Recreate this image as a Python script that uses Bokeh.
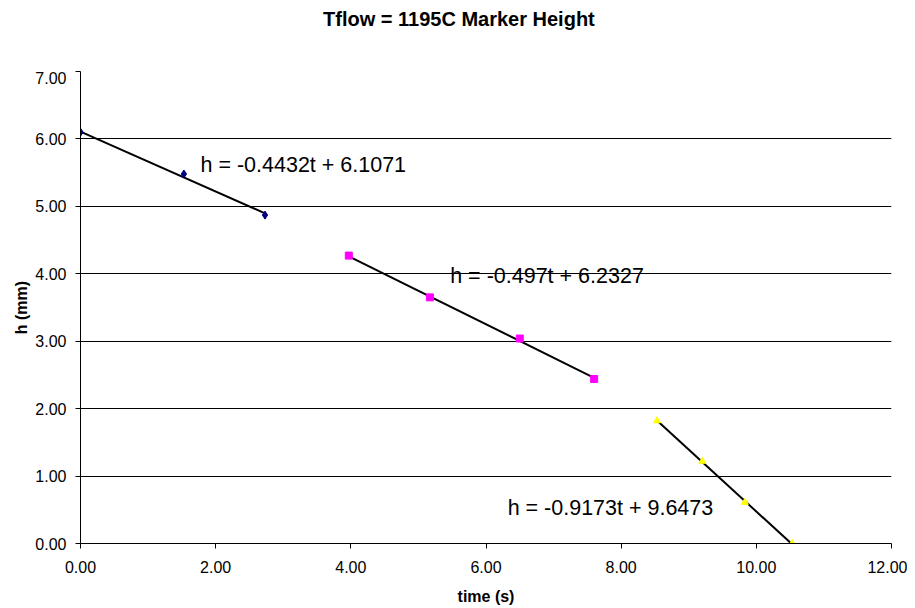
from bokeh.plotting import figure
from bokeh.models import Range1d, PrintfTickFormatter, FixedTicker, Label, Div
from bokeh.layouts import column
from bokeh.embed import file_html
from bokeh.resources import INLINE

# Data
t1 = [0.00, 1.53, 2.73]
h1 = [6.10, 5.48, 4.87]
t2 = [3.97, 5.17, 6.50, 7.60]
h2 = [4.27, 3.65, 3.04, 2.44]
t3 = [8.53, 9.20, 9.83, 10.53]
h3 = [1.82, 1.22, 0.61, 0.00]

slopes = [-0.4432, -0.497, -0.9173]
intercepts = [6.1071, 6.2327, 9.6473]
eq_labels = ["h = -0.4432t + 6.1071", "h = -0.497t + 6.2327", "h = -0.9173t + 9.6473"]
title_text = "Tflow = 1195C Marker Height"

x_ticks = [0, 2, 4, 6, 8, 10, 12]
y_ticks = [0, 1, 2, 3, 4, 5, 6, 7]

FONT = "Liberation Sans"

p = figure(frame_width=811, frame_height=472, output_backend="svg", toolbar_location=None,
           x_range=Range1d(0, 12), y_range=Range1d(0, 7),
           min_border_left=80, min_border_right=16, min_border_top=0, min_border_bottom=62)
p.outline_line_color = None
p.background_fill_color = "white"
p.border_fill_color = "white"

p.xgrid.grid_line_color = None
p.ygrid.grid_line_color = "#000000"
p.ygrid.grid_line_width = 1
p.ygrid.ticker = FixedTicker(ticks=y_ticks)

for ax in (p.xaxis[0], p.yaxis[0]):
    ax.axis_line_color = "black"
    ax.major_tick_line_color = "black"
    ax.major_tick_out = 5
    ax.major_tick_in = 0
    ax.minor_tick_line_color = None
    ax.major_label_text_font = FONT
    ax.major_label_text_font_size = "16px"
    ax.major_label_text_color = "black"
    ax.axis_label_text_font = FONT
    ax.axis_label_text_font_size = "16px"
    ax.axis_label_text_font_style = "bold"
    ax.axis_label_text_color = "black"
    ax.formatter = PrintfTickFormatter(format="%.2f")

p.xaxis.ticker = FixedTicker(ticks=x_ticks)
p.yaxis.ticker = FixedTicker(ticks=y_ticks)
p.xaxis.axis_label = "time (s)"
p.yaxis.axis_label = "h (mm)"
p.xaxis.major_label_standoff = 12
p.yaxis.major_label_standoff = 9
p.xaxis.axis_label_standoff = 12
p.yaxis.axis_label_standoff = 2

# Trend lines from equations across each series' span
for ts, m, b in zip([t1, t2, t3], slopes, intercepts):
    xs = [min(ts), max(ts)]
    ys = [m * x + b for x in xs]
    p.line(xs, ys, line_color="black", line_width=2)

p.scatter(t1, h1, marker="diamond", size=8, fill_color="#000080", line_color="#000080")
p.scatter(t2, h2, marker="square", size=7, fill_color="#FF00FF", line_color="#FF00FF")
p.scatter(t3, h3, marker="triangle", size=7, fill_color="#FFFF00", line_color="#FFFF00")

label_pos = [(1.775, 5.61), (5.47, 3.97), (6.32, 0.53)]
for (lx, ly), txt in zip(label_pos, eq_labels):
    p.add_layout(Label(x=lx, y=ly, text=txt, text_font=FONT, text_font_size="21.5px",
                       text_baseline="middle", text_align="left", text_color="black"))

title = Div(text=title_text, width=907, height=71, margin=0,
            styles={"font-family": FONT, "font-size": "20px", "font-weight": "bold",
                    "line-height": "23px", "color": "black", "padding-top": "8px",
                    "padding-left": "323px", "box-sizing": "border-box",
                    "background-color": "white"})

layout = column(title, p, spacing=0)
open("out.html", "w").write(file_html(layout, INLINE))
